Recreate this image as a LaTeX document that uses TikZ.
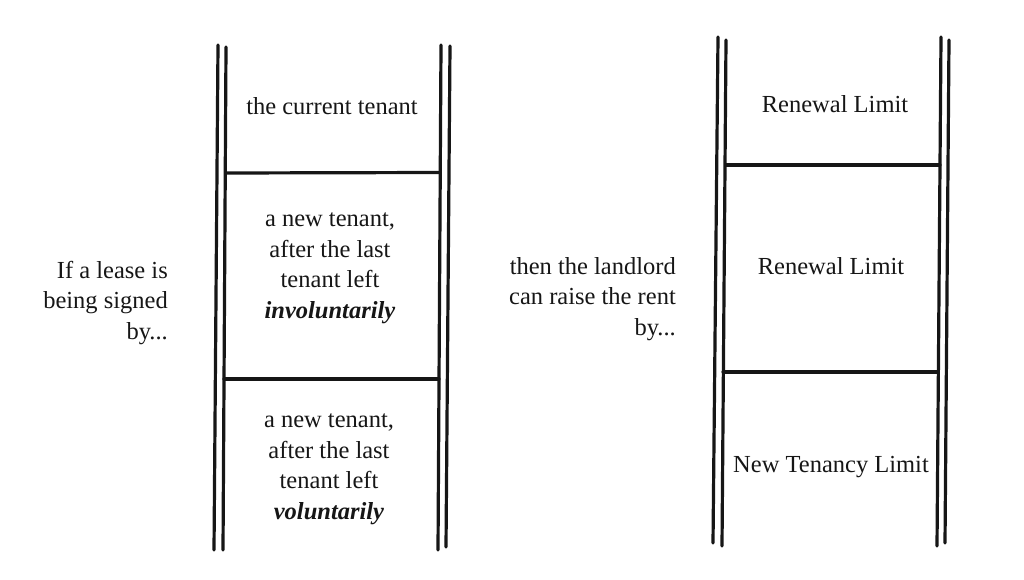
\documentclass[tikz,border=0pt]{standalone}
\usepackage{fontspec}
\setmainfont{Liberation Serif}
\definecolor{ink}{HTML}{161616}
\begin{document}
\begin{tikzpicture}[x=1pt,y=-1pt,
  rail/.style={draw=ink,line width=3.2pt,line cap=round},
  rung/.style={draw=ink,line width=3.2pt,line cap=round},
  lbl/.style={font=\fontsize{24.5}{30.5}\selectfont,text=ink,inner sep=0pt,align=center},
  side/.style={font=\fontsize{24.5}{30.5}\selectfont,text=ink,inner sep=0pt,align=right,anchor=east}]
\useasboundingbox (0,0) rectangle (1024,580);
% left ladder rails
\coordinate (LA1) at (218,45);  \coordinate (LA2) at (214,550);
\coordinate (LB1) at (226,47);  \coordinate (LB2) at (223,550);
\coordinate (LC1) at (441,45);  \coordinate (LC2) at (438,550);
\coordinate (LD1) at (450,46);  \coordinate (LD2) at (446,547);
\draw[rail] (LA1) -- (LA2);
\draw[rail] (LB1) -- (LB2);
\draw[rail] (LC1) -- (LC2);
\draw[rail] (LD1) -- (LD2);
% left rungs
\coordinate (LR1a) at (226,173); \coordinate (LR1b) at (440,172.5);
\coordinate (LR2a) at (224,379); \coordinate (LR2b) at (439,379);
\draw[rung] (LR1a) -- (LR1b);
\draw[rung] (LR2a) -- (LR2b);
% right ladder rails
\coordinate (RA1) at (718,37);  \coordinate (RA2) at (713,543);
\coordinate (RB1) at (726,40);  \coordinate (RB2) at (722,546);
\coordinate (RC1) at (941,37);  \coordinate (RC2) at (937,546);
\coordinate (RD1) at (949,40);  \coordinate (RD2) at (945,543);
\draw[rail] (RA1) -- (RA2);
\draw[rail] (RB1) -- (RB2);
\draw[rail] (RC1) -- (RC2);
\draw[rail] (RD1) -- (RD2);
% right rungs
\coordinate (RR1a) at (726,165); \coordinate (RR1b) at (940,165);
\coordinate (RR2a) at (723,372); \coordinate (RR2b) at (938,372);
\draw[rung] (RR1a) -- (RR1b);
\draw[rung] (RR2a) -- (RR2b);
% texts
\node[lbl,anchor=base] (cur) at (332,115) {the current tenant};
\node[lbl] (inv) at (330,268) {a new tenant,\\after the last\\tenant left\\\textbf{\textit{involuntarily}}};
\node[lbl] (vol) at (329,469) {a new tenant,\\after the last\\tenant left\\\textbf{\textit{voluntarily}}};
\node[side] (if) at (168,303) {If a lease is\\being signed\\by...};
\node[side] (then) at (676,299) {then the landlord\\can raise the rent\\by...};
\node[lbl,anchor=base] (ren1) at (835,113) {Renewal Limit};
\node[lbl,anchor=base] (ren2) at (831,274) {Renewal Limit};
\node[lbl,anchor=base] (ntl) at (831,472) {New Tenancy Limit};
\end{tikzpicture}
\end{document}
